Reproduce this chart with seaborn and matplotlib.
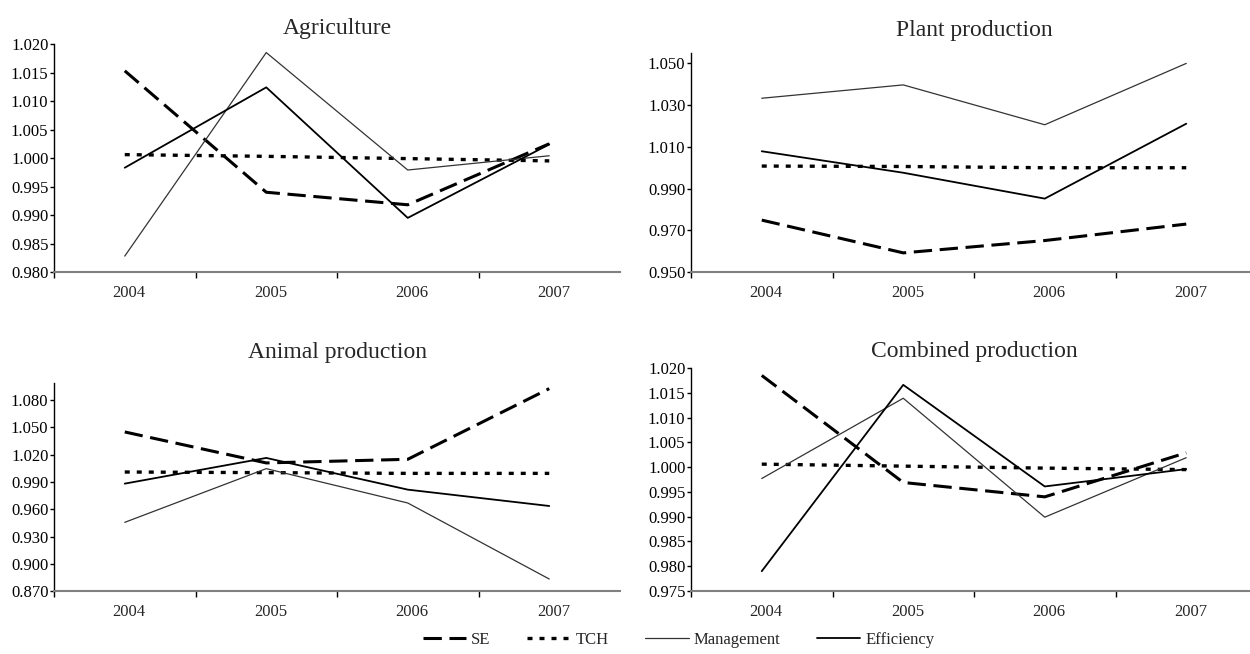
import numpy as np
import pandas as pd
import seaborn as sns
import matplotlib.pyplot as plt
from matplotlib.ticker import FixedLocator, FormatStrFormatter, NullFormatter

sns.set_style("white")
plt.rcParams['font.family'] = ['Liberation Serif', 'DejaVu Serif']

years = ['2004', '2005', '2006', '2007']

# Agriculture
agr_se = [1.0153, 0.9940, 0.9918, 1.0025]
agr_tch = [1.0006, 1.0003, 0.9999, 0.9995]
agr_mgmt = [0.9828, 1.0185, 0.9979, 1.0004]
agr_eff = [0.9983, 1.0124, 0.9895, 1.0024]

# Plant production
pla_se = [0.9749, 0.9592, 0.9651, 0.9730]
pla_tch = [1.0008, 1.0006, 1.0000, 1.0000]
pla_mgmt = [1.0333, 1.0397, 1.0206, 1.0500]
pla_eff = [1.0079, 0.9976, 0.9852, 1.0211]

# Animal production
ani_se = [1.0451, 1.0110, 1.0150, 1.0928]
ani_tch = [1.0010, 1.0003, 0.9995, 0.9995]
ani_mgmt = [0.9456, 1.0047, 0.9669, 0.8832]
ani_eff = [0.9882, 1.0165, 0.9816, 0.9636]

# Combined production
com_se = [1.0185, 0.9969, 0.9940, 1.0029]
com_tch = [1.0006, 1.0002, 0.9998, 0.9995]
com_mgmt = [0.9977, 1.0139, 0.9899, 1.0019]
com_eff = [0.9790, 1.0166, 0.9961, 0.9996]

panels = [
    ('Agriculture', agr_se, agr_tch, agr_mgmt, agr_eff),
    ('Plant production', pla_se, pla_tch, pla_mgmt, pla_eff),
    ('Animal production', ani_se, ani_tch, ani_mgmt, ani_eff),
    ('Combined production', com_se, com_tch, com_mgmt, com_eff),
]

# axes boxes (left, bottom, width, height) and y settings
boxes = [
    [0.0432, 0.584, 0.4528, 0.3487],
    [0.5528, 0.584, 0.4528, 0.335],
    [0.0432, 0.0963, 0.4528, 0.3181],
    [0.5528, 0.0963, 0.4528, 0.341],
]
ylims = [(0.980, 1.020), (0.950, 1.055), (0.870, 1.099), (0.975, 1.020)]
yticks = [np.arange(0.980, 1.0201, 0.005), np.arange(0.950, 1.0501, 0.02),
          np.arange(0.870, 1.0801, 0.03), np.arange(0.975, 1.0201, 0.005)]
title_pad = [7, 12, 18, 8]

styles = {
    'SE': dict(color='black', lw=2.2, dashes=(6, 2.5)),
    'TCH': dict(color='black', lw=2.4, dashes=(1.5, 2.1)),
    'Management': dict(color='#333333', lw=0.9, dashes=''),
    'Efficiency': dict(color='black', lw=1.3, dashes=''),
}

fig = plt.figure(figsize=(12.5, 6.54), dpi=100)

for i, (title, se, tch, mgmt, eff) in enumerate(panels):
    ax = fig.add_axes(boxes[i])
    df = pd.DataFrame({'year': years * 4,
                       'value': se + tch + mgmt + eff,
                       'series': ['SE'] * 4 + ['TCH'] * 4 + ['Management'] * 4 + ['Efficiency'] * 4})
    for name in ['SE', 'TCH', 'Management', 'Efficiency']:
        st = styles[name]
        sub = df[df['series'] == name]
        sns.lineplot(x=np.arange(4), y=sub['value'].values, ax=ax, color=st['color'],
                     lw=st['lw'], dashes=False, label=name if i == 0 else None, legend=False)
        line = ax.lines[-1]
        if st['dashes']:
            line.set_dashes(st['dashes'])
            line.set_dash_capstyle('butt')
    ax.set_xlim(-0.5, 3.5)
    ax.set_ylim(*ylims[i])
    ax.yaxis.set_major_locator(FixedLocator(yticks[i]))
    ax.yaxis.set_major_formatter(FormatStrFormatter('%.3f'))
    ax.xaxis.set_major_locator(FixedLocator([-0.5, 0.5, 1.5, 2.5]))
    ax.xaxis.set_major_formatter(NullFormatter())
    ax.xaxis.set_minor_locator(FixedLocator([0.03, 1.03, 2.03, 3.03]))
    ax.set_xticklabels(years, minor=True)
    ax.tick_params(axis='x', which='major', direction='out', length=4, width=1, color='black', bottom=True)
    ax.tick_params(axis='x', which='minor', length=0, pad=9, labelsize=12, bottom=True)
    ax.tick_params(axis='y', direction='out', length=3, width=1, pad=1, labelsize=12, left=True, colors='black')
    for s in ['top', 'right']:
        ax.spines[s].set_visible(False)
    ax.spines['left'].set_color('black')
    ax.spines['left'].set_linewidth(1)
    ax.spines['bottom'].set_color('#808080')
    ax.spines['bottom'].set_linewidth(1.5)
    ax.set_xlabel('')
    ax.set_ylabel('')
    ax.set_title(title, fontsize=17, pad=title_pad[i])
    if i == 0:
        handles, labels = ax.get_legend_handles_labels()

fig.legend(handles, labels, loc='center', bbox_to_anchor=(0.543, 0.021), ncol=4, frameon=False,
           fontsize=12, handlelength=2.6, handletextpad=0.3, columnspacing=2.2)

fig.savefig('out.png', dpi=100)
